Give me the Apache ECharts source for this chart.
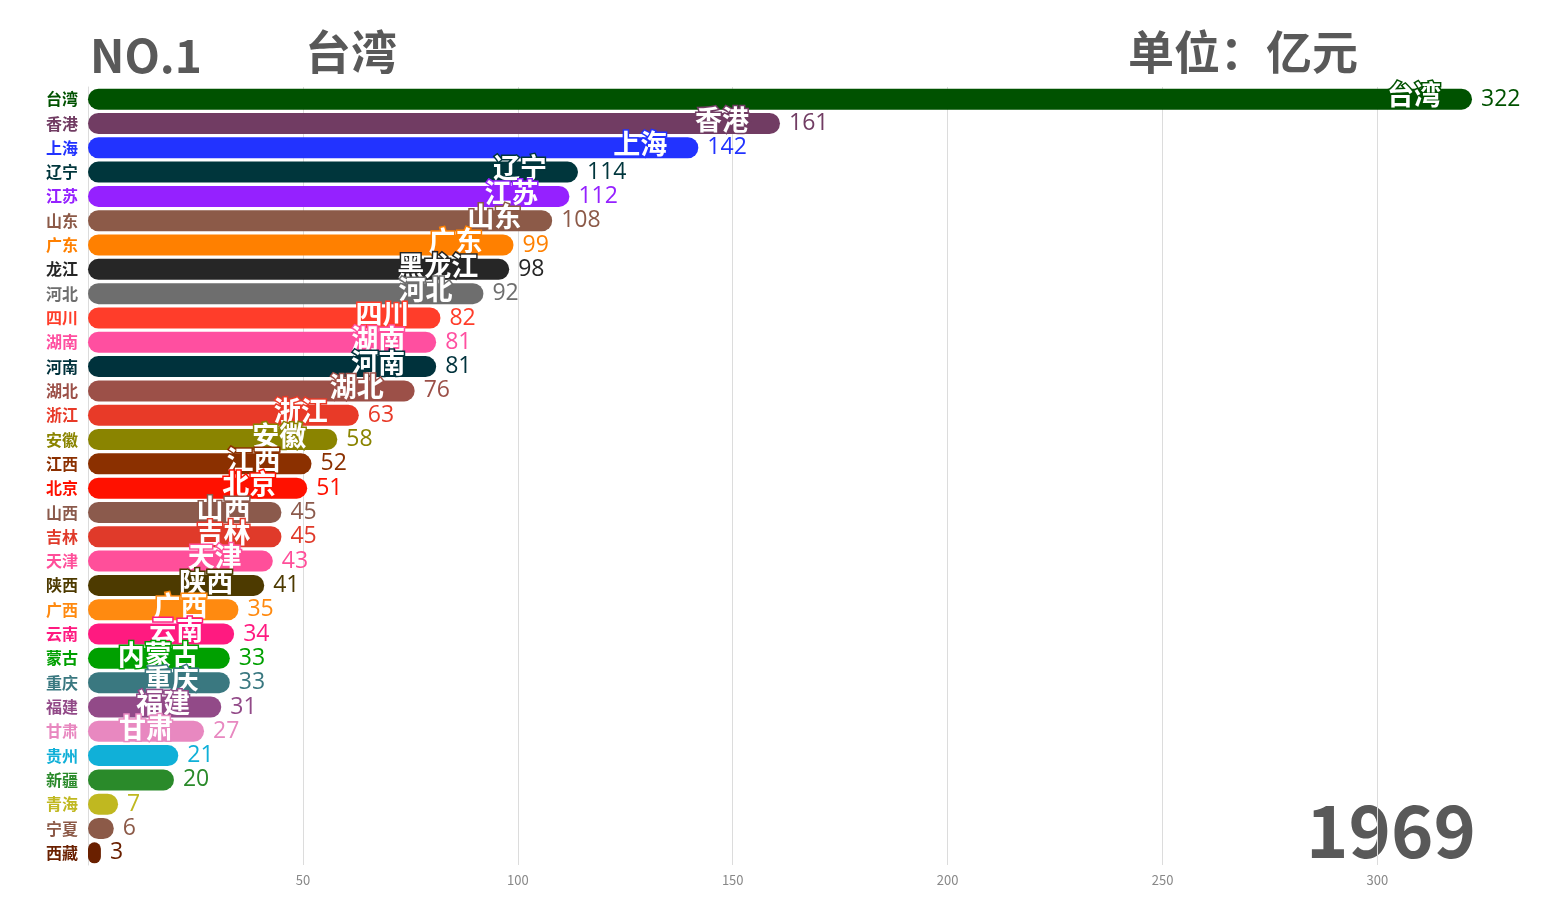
<!DOCTYPE html>
<html>
<head>
<meta charset="utf-8">
<script src="https://cdn.jsdelivr.net/npm/echarts@6/dist/echarts.min.js"></script>
<style>
html,body{margin:0;padding:0;background:#fff;}
#main{width:1544px;height:918px;}
</style>
</head>
<body>
<div id="main"></div>
<script>
const categories = ['台湾','香港','上海','辽宁','江苏','山东','广东','黑龙江','河北','四川','湖南','河南','湖北','浙江','安徽','江西','北京','山西','吉林','天津','陕西','广西','云南','内蒙古','重庆','福建','甘肃','贵州','新疆','青海','宁夏','西藏'];
const values = [322,161,142,114,112,108,99,98,92,82,81,81,76,63,58,52,51,45,45,43,41,35,34,33,33,31,27,21,20,7,6,3];
const colors = ['#005200','#713c63','#2233ff','#00363c','#9521ff','#8c5a48','#ff8000','#262626','#6e6e6e','#ff3d2a','#ff4fa0','#00323c','#9c5048','#e83a28','#8a8400','#8b3000','#ff1100','#8b5a4c','#e03a2a','#ff4f9a','#4d3a00','#ff8a10','#ff1a80','#00a000','#3a7880','#924a88','#e888c0','#10b0d8','#2a8a2a','#c0b820','#8c5a48','#6a2000'];
const xTicks = [50,100,150,200,250,300];
const year = '1969';
const unit = '单位：亿元';

const chart = echarts.init(document.getElementById('main'));
const font = '"Noto Sans CJK SC","Noto Sans",sans-serif';
const data = values.map((v,i)=>({
  value: v,
  itemStyle: {color: colors[i]},
  label: {color: colors[i]}
}));
const option = {
  backgroundColor:'#fff',
  animation:false,
  grid:{left:88,right:72,top:87,bottom:53,containLabel:false},
  graphic:[
    {type:'text',left:90,top:33,style:{text:'NO.1',font:'bold 46px '+font,fill:'#595959'}},
    {type:'text',left:305,top:29,style:{text:categories[0],font:'bold 46px '+font,fill:'#595959'}},
    {type:'text',left:1128,top:29,style:{text:unit,font:'bold 46px '+font,fill:'#595959'}},
    {type:'text',left:1306,top:795,style:{text:year,font:'bold 72px '+font,fill:'#595959'}}
  ],
  xAxis:{
    type:'value',min:0,max:'dataMax',interval:50,
    axisLine:{show:false},axisTick:{show:false},
    splitLine:{show:true,showMinLine:false,showMaxLine:false,lineStyle:{color:'#dcdcdc'}},
    axisLabel:{showMinLabel:false,showMaxLabel:false,color:'#888',fontSize:13,fontFamily:font,margin:9,
      formatter:v=>xTicks.includes(v)?String(v):''}
  },
  yAxis:{
    type:'category',inverse:true,data:categories,
    axisLine:{show:true,lineStyle:{color:'#dcdcdc'}},axisTick:{show:false},
    axisLabel:{fontSize:16,fontWeight:'bold',fontFamily:font,margin:10,
      formatter:(v)=>v.slice(-2),
      color:(v,i)=>colors[categories.indexOf(v)]}
  },
  series:[
    {type:'bar',data:data,barWidth:21,
      itemStyle:{borderRadius:11},
      label:{show:true,position:'right',distance:9,fontSize:23,fontFamily:'"Open Sans","Noto Sans",sans-serif',
        formatter:p=>p.value}
    },
    {type:'bar',data:values.map((v,i)=>({value:v,itemStyle:{color:'rgba(0,0,0,0)'},
        label:{textBorderColor:colors[i],show:v>=25}})),
      barWidth:21,barGap:'-100%',silent:true,z:5,
      label:{show:true,position:'insideRight',offset:[-26,-4],color:'#fff',fontSize:27,fontWeight:'bold',
        fontFamily:font,textBorderWidth:3,
        formatter:p=>categories[p.dataIndex]}
    }
  ]
};
chart.setOption(option);
</script>
</body>
</html>
